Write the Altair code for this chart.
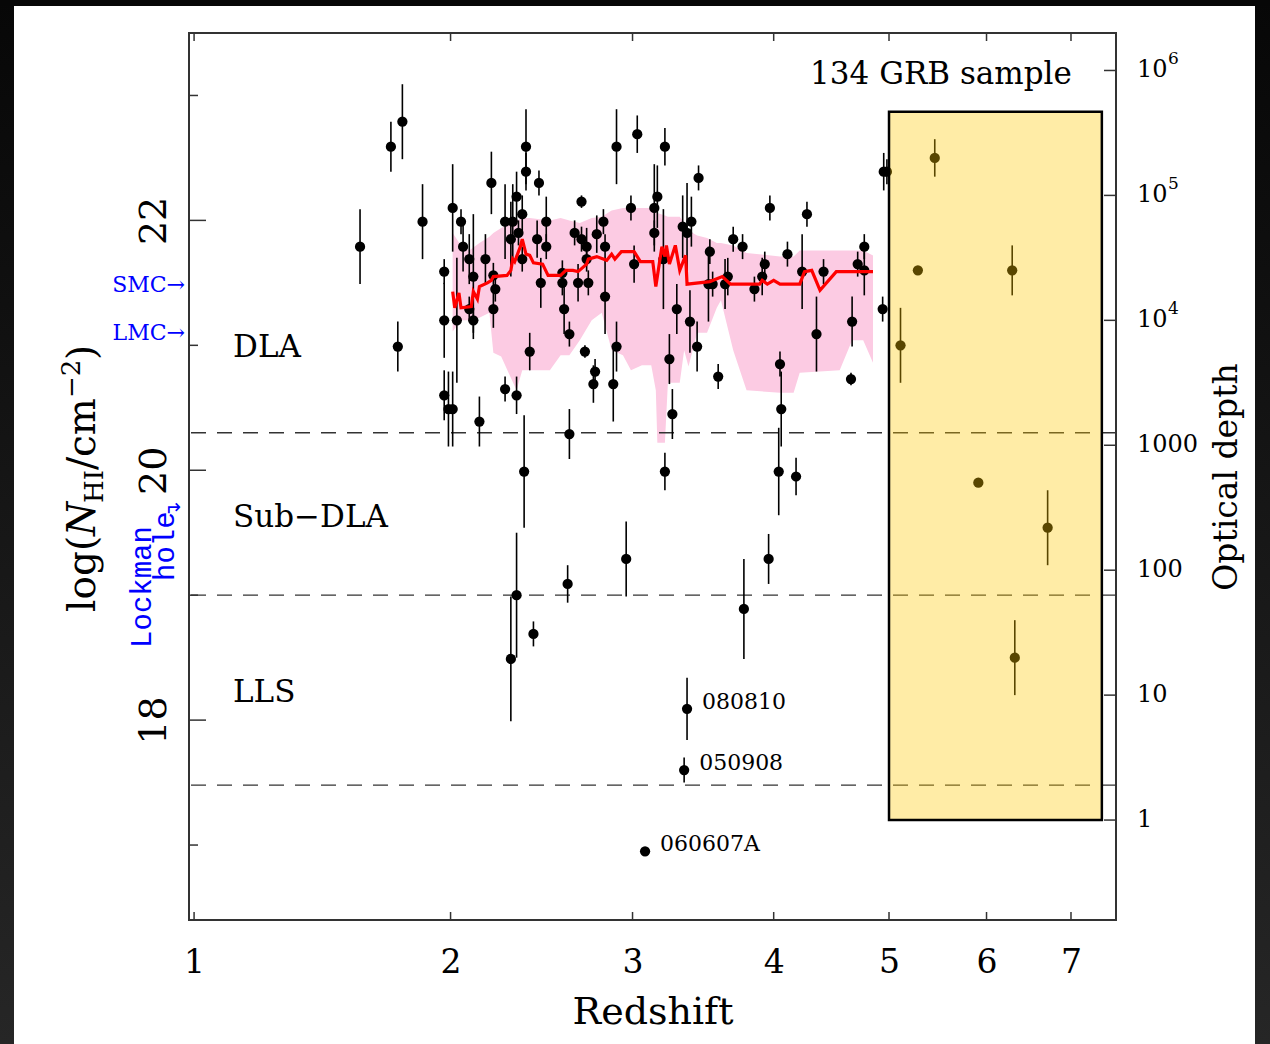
import altair as alt
import pandas as pd

# Plot-area size in pixels
W, H = 927, 887
SERIF = "DejaVu Serif"
MONO = "Liberation Mono"

# ---------------- GRB afterglow HI column densities ----------------
grb_z = [
    1.60, 1.73, 1.78, 1.76, 1.87, 1.97, 1.97, 2.01, 2.05, 2.06, 2.03, 2.09, 2.11,
    2.09, 2.11, 2.17, 2.20, 2.21, 2.22, 2.21, 1.97, 1.99, 2.01, 2.14, 2.27, 2.33,
    2.40, 2.27, 2.31, 2.30, 2.33, 2.36, 2.34, 2.36, 2.38, 2.38, 2.45, 2.44, 2.49,
    2.49, 2.46, 2.62, 2.58, 2.58, 2.59, 2.62, 2.65, 2.69, 2.69, 2.72, 2.72, 2.67,
    2.73, 2.71, 2.77, 2.76, 2.78, 2.82, 2.83, 2.83, 2.90, 2.88, 2.90, 2.99, 3.01,
    3.03,
    3.21, 3.14, 3.16, 3.14, 3.20, 3.29, 3.24, 3.26, 3.33, 3.36, 3.39, 3.38, 3.43,
    3.44, 3.52, 3.51, 3.54, 3.58, 3.65, 3.63, 3.69, 3.76, 3.85, 3.91, 3.93, 3.97,
    4.05, 4.06, 4.11, 4.23, 4.27, 4.35, 4.41, 4.66, 4.65, 4.71, 4.77, 4.77, 4.94,
    4.95, 4.98,
    2.37, 3.21, 4.04, 4.18, 2.33, 2.30, 2.42, 2.61, 2.96, 3.77, 3.96,
    3.36, 3.34, 3.08,
    5.11, 5.28, 5.45, 5.91, 6.29, 6.32, 6.71,
]
grb_logn = [
    21.79, 22.59, 22.79, 20.99, 21.99, 21.59, 21.20, 22.10, 21.99, 21.79, 21.20, 21.69, 21.55,
    21.29, 21.20, 21.69, 22.30, 21.56, 21.45, 21.29, 20.60, 20.49, 20.49, 20.39, 20.65, 20.60,
    20.95, 21.99, 21.99, 21.85, 22.19, 22.05, 21.90, 21.69, 22.59, 22.39, 22.30, 21.85, 21.99,
    21.79, 21.50, 20.29, 21.58, 21.50, 21.29, 21.09, 21.90, 22.15, 21.85, 21.79, 21.69, 21.50,
    21.50, 20.95, 20.79, 20.69, 21.89, 21.99, 21.79, 21.39, 20.99, 20.69, 22.59, 22.10, 21.65,
    22.69,
    22.59, 22.10, 22.19, 21.90, 21.69, 21.29, 20.89, 20.45, 21.95, 21.90, 21.99, 21.19, 20.99,
    22.34, 21.75, 21.49, 21.49, 20.75, 21.55, 21.49, 21.85, 21.79, 21.45, 21.55, 21.65, 22.10,
    20.85, 20.49, 21.73, 21.59, 22.05, 21.09, 21.59, 21.19, 20.73, 21.65, 21.79, 21.60, 21.29,
    22.39, 22.39,
    19.99, 19.99, 19.99, 19.95, 19.00, 18.49, 18.69, 19.09, 19.29, 18.89, 19.29,
    18.09, 17.60, 16.95,
    21.00, 21.60, 22.50, 19.90, 21.60, 18.50, 19.54,
]
grb_err = [
    0.30, 0.20, 0.30, 0.20, 0.30, 0.10, 0.30, 0.35, 0.10, 0.20, 0.50, 0.20, 0.50,
    0.10, 0.10, 0.20, 0.25, 0.10, 0.10, 0.15, 0.20, 0.30, 0.30, 0.20, 0.10, 0.15,
    0.15, 0.30, 0.30, 0.30, 0.20, 0.15, 0.10, 0.10, 0.30, 0.15, 0.10, 0.15, 0.20,
    0.10, 0.20, 0.20, 0.10, 0.10, 0.20, 0.10, 0.10, 0.05, 0.10, 0.15, 0.10, 0.15,
    0.10, 0.05, 0.10, 0.15, 0.15, 0.10, 0.10, 0.30, 0.20, 0.30, 0.30, 0.10, 0.15,
    0.15,
    0.15, 0.35, 0.25, 0.10, 0.40, 0.20, 0.20, 0.20, 0.25, 0.40, 0.20, 0.25, 0.20,
    0.10, 0.10, 0.30, 0.10, 0.10, 0.15, 0.20, 0.10, 0.10, 0.10, 0.15, 0.10, 0.10,
    0.10, 0.30, 0.10, 0.30, 0.10, 0.30, 0.10, 0.20, 0.05, 0.10, 0.10, 0.20, 0.10,
    0.15, 0.10,
    0.45, 0.15, 0.35, 0.15, 0.50, 0.50, 0.10, 0.15, 0.30, 0.40, 0.20,
    0.25, 0.10, 0.00,
    0.30, 0.00, 0.15, 0.00, 0.20, 0.30, 0.30,
]

# Named low-column bursts
named_grb = ["080810", "050908", "060607A"]
named_z = [3.36, 3.34, 3.08]
named_logn = [18.09, 17.60, 16.95]

# Running median of the sample
median_z = [2.01, 2.02, 2.04, 2.05, 2.10, 2.11, 2.13, 2.14, 2.18, 2.20, 2.21, 2.28, 2.30,
            2.31, 2.32, 2.33, 2.35, 2.36, 2.37, 2.38, 2.40, 2.42, 2.47, 2.50, 2.57, 2.60,
            2.64, 2.67, 2.72, 2.73, 2.78, 2.84, 2.87, 2.89, 2.93, 3.01, 3.05, 3.13, 3.15,
            3.19, 3.21, 3.22, 3.24, 3.28, 3.31, 3.35, 3.36, 3.52, 3.61, 3.67, 3.89, 3.91,
            3.95, 4.00, 4.05, 4.21, 4.25, 4.31, 4.38, 4.52, 4.85]
median_logn = [21.43, 21.30, 21.42, 21.30, 21.31, 21.43, 21.37, 21.47, 21.50, 21.52, 21.55,
               21.56, 21.60, 21.69, 21.67, 21.71, 21.79, 21.85, 21.79, 21.73, 21.72, 21.66,
               21.65, 21.56, 21.56, 21.60, 21.60, 21.59, 21.65, 21.69, 21.71, 21.68, 21.73,
               21.69, 21.75, 21.75, 21.67, 21.67, 21.47, 21.79, 21.71, 21.80, 21.65, 21.80,
               21.60, 21.72, 21.49, 21.51, 21.55, 21.49, 21.49, 21.52, 21.49, 21.52, 21.49,
               21.49, 21.59, 21.60, 21.44, 21.59, 21.59]

# Spread around the running median
band_z = [2.01, 2.05, 2.09, 2.14, 2.19, 2.21, 2.25, 2.30, 2.33, 2.36, 2.40, 2.51, 2.57,
          2.62, 2.68, 2.75, 2.81, 2.87, 2.94, 2.99, 3.06, 3.12, 3.15, 3.16, 3.21, 3.23,
          3.31, 3.34, 3.37, 3.43, 3.50, 3.57, 3.60, 3.69, 3.79, 4.05, 4.16, 4.21, 4.55,
          4.66, 4.76, 4.85]
band_lo = [21.11, 21.20, 21.20, 21.22, 21.26, 20.94, 20.91, 20.74, 20.64, 20.80, 20.80,
           20.80, 20.92, 20.92, 21.04, 21.20, 21.26, 20.96, 20.92, 20.80, 20.84, 20.84,
           20.64, 20.22, 20.22, 20.70, 20.70, 20.96, 20.83, 21.10, 21.10, 21.30, 21.36,
           20.96, 20.64, 20.62, 20.62, 20.78, 20.80, 21.04, 21.04, 20.86]
band_hi = [21.90, 21.80, 21.76, 21.82, 21.87, 21.90, 21.94, 21.98, 22.00, 22.02, 22.02,
           22.00, 22.02, 22.00, 21.98, 22.02, 22.03, 22.08, 22.10, 22.10, 22.10, 22.10,
           22.06, 22.06, 22.04, 22.03, 22.03, 21.98, 21.92, 21.88, 21.86, 21.82, 21.82,
           21.80, 21.74, 21.71, 21.71, 21.76, 21.76, 21.76, 21.76, 21.72]

# Absorber classes
class_bounds = [20.3, 19.0, 17.48]
class_names = ["DLA", "Sub\u2212DLA", "LLS"]
class_z = [1.127, 1.127, 1.127]
class_logn = [20.98, 19.62, 18.22]

# Reference HI columns of the Magellanic Clouds
ref_names = ["SMC\u2192", "LMC\u2192"]
ref_logn = [21.48, 21.10]

# High-redshift window
hiz_z = [5.0, 7.4]
hiz_logn = [17.2, 22.87]

# Axis ticks
z_ticks = [1, 2, 3, 4, 5, 6, 7]
logn_major = [18, 20, 22]
logn_minor = [17, 19, 21, 23]
# Lyman-limit optical depth tau = N_HI * 6.3e-18 cm^2  ->  log N = log tau + 17.2
tau_exp = [0, 1, 2, 3, 4, 5, 6]
tau_base = ["1", "10", "100", "1000", "10", "10", "10"]
tau_sup = ["", "", "", "", "4", "5", "6"]


def onep(zs):
    return [1.0 + z for z in zs]


grb = pd.DataFrame({
    "zp": onep(grb_z), "logn": grb_logn,
    "lo": [n - e for n, e in zip(grb_logn, grb_err)],
    "hi": [n + e for n, e in zip(grb_logn, grb_err)],
})
named = pd.DataFrame({"zp": onep(named_z), "logn": named_logn, "name": named_grb})
median = pd.DataFrame({"zp": onep(median_z), "logn": median_logn})
band = pd.DataFrame({"zp": onep(band_z), "lo": band_lo, "hi": band_hi})
bounds = pd.DataFrame({"logn": class_bounds})
classes = pd.DataFrame({"zp": onep(class_z), "logn": class_logn, "name": class_names})
refs = pd.DataFrame({"logn": ref_logn, "name": ref_names})
hiz = pd.DataFrame({"zp0": [1 + hiz_z[0]], "zp1": [1 + hiz_z[1]],
                    "n0": [hiz_logn[0]], "n1": [hiz_logn[1]]})
xt = pd.DataFrame({"zp": onep(z_ticks)})
ymaj = pd.DataFrame({"logn": logn_major})
ymin = pd.DataFrame({"logn": logn_minor})
tau = pd.DataFrame({"logn": [e + 17.2 for e in tau_exp], "base": tau_base, "sup": tau_sup})
one = pd.DataFrame({"k": [0]})

xscale = alt.Scale(type="log", domain=[1.984, 8.59], nice=False)
yscale = alt.Scale(domain=[16.4, 23.5], nice=False, zero=False)

x_axis = alt.Axis(
    values=onep(z_ticks), labelExpr="format(datum.value - 1, 'd')",
    ticks=False, tickSize=0, domain=False, grid=False, labelOverlap=False,
    labelFont=SERIF, labelFontSize=33, labelColor="black", labelPadding=26,
    title="Redshift", titleFont=SERIF, titleFontSize=38, titleFontWeight="normal",
    titleColor="black", titleBaseline="alphabetic", titleY=103,
)
y_axis = alt.Axis(
    values=logn_major, format="d", ticks=False, tickSize=0, domain=False, grid=False,
    labelOverlap=False, labelAngle=270, labelAlign="center", labelBaseline="alphabetic",
    labelPadding=24, labelFont=SERIF, labelFontSize=38, labelColor="black", title=None,
)


def X(field="zp"):
    return alt.X(f"{field}:Q", scale=xscale, axis=x_axis)


def Y(field="logn"):
    return alt.Y(f"{field}:Q", scale=yscale, axis=y_axis)


# Dark page border
edge = alt.Gradient(gradient="linear", x1=0, x2=0, y1=0, y2=1,
                    stops=[alt.GradientStop(color="#070707", offset=0),
                           alt.GradientStop(color="#262626", offset=1)])
border_left = alt.Chart(one).mark_rect(fill=edge).encode(
    x=alt.value(-189), x2=alt.value(-175), y=alt.value(-33), y2=alt.value(1011))
border_right = alt.Chart(one).mark_rect(fill=edge).encode(
    x=alt.value(1066), x2=alt.value(1081), y=alt.value(-33), y2=alt.value(1011))
border_top = alt.Chart(one).mark_rect(fill="#070707").encode(
    x=alt.value(-189), x2=alt.value(1081), y=alt.value(-33), y2=alt.value(-27))

spread = alt.Chart(band).mark_area(color="#fccbe3", opacity=1).encode(
    x=X(), y=Y("lo"), y2="hi:Q")

dashes = alt.Chart(bounds).mark_rule(color="#333333", strokeWidth=1.3,
                                     strokeDash=[15, 11]).encode(y=Y())

errbars = alt.Chart(grb).mark_rule(color="black", strokeWidth=1.6).encode(
    x=X(), y=Y("lo"), y2="hi:Q")
dots = alt.Chart(grb).mark_circle(color="black", opacity=1, size=105).encode(x=X(), y=Y())

med = alt.Chart(median).mark_line(color="#ff0000", strokeWidth=3.2).encode(x=X(), y=Y())

window = alt.Chart(hiz).mark_rect(fill="#ffc800", fillOpacity=0.35, stroke="black",
                                  strokeWidth=2.5).encode(
    x=X("zp0"), x2="zp1:Q", y=Y("n0"), y2="n1:Q")

tick_col = "#333333"
xt_bottom = alt.Chart(xt).mark_rule(color=tick_col, strokeWidth=1.5).encode(
    x=X(), y=alt.value(H), y2=alt.value(H - 8))
xt_top = alt.Chart(xt).mark_rule(color=tick_col, strokeWidth=1.5).encode(
    x=X(), y=alt.value(0), y2=alt.value(8))
yt_major = alt.Chart(ymaj).mark_rule(color=tick_col, strokeWidth=1.5).encode(
    y=Y(), x=alt.value(0), x2=alt.value(17))
yt_minor = alt.Chart(ymin).mark_rule(color=tick_col, strokeWidth=1.5).encode(
    y=Y(), x=alt.value(0), x2=alt.value(9))
yt_right = alt.Chart(tau).mark_rule(color=tick_col, strokeWidth=1.5).encode(
    y=Y(), x=alt.value(W - 12), x2=alt.value(W))

tau_text = alt.Chart(tau).mark_text(font=SERIF, fontSize=24, align="left",
                                    baseline="middle", color="black").encode(
    y=Y(), x=alt.value(W + 21), text="base:N")
tau_sup_text = alt.Chart(tau).mark_text(font=SERIF, fontSize=17, align="left",
                                        baseline="middle", color="black", dy=-11).encode(
    y=Y(), x=alt.value(W + 52), text="sup:N")
tau_title = alt.Chart(one).mark_text(text="Optical depth", font=SERIF, fontSize=33,
                                     angle=270, align="center", baseline="alphabetic",
                                     color="black").encode(
    x=alt.value(1237 - 189), y=alt.value(477 - 33))

# log(N_HI / cm^-2), set piece by piece along the rotated baseline
title_parts = [
    ("log(", 95, 612, 39, "normal"),
    ("N", 95, 536, 39, "italic"),
    ("HI", 103, 503, 26, "normal"),
    ("/", 95, 470, 39, "normal"),
    ("cm", 95, 457, 39, "normal"),
    ("\u22122", 80, 398, 26, "normal"),
    (")", 95, 360, 39, "normal"),
]
title_layers = [
    alt.Chart(one).mark_text(text=t, font=SERIF, fontSize=s, fontStyle=st, angle=270,
                             align="left", baseline="alphabetic", color="black").encode(
        x=alt.value(px - 189), y=alt.value(py - 33))
    for t, px, py, s, st in title_parts
]

class_text = alt.Chart(classes).mark_text(font=SERIF, fontSize=31, align="left",
                                          baseline="middle", color="black").encode(
    x=X(), y=Y(), text="name:N")
sample_text = alt.Chart(pd.DataFrame({"zp": [8.01], "logn": [23.16]})).mark_text(
    text="134  GRB  sample", font=SERIF, fontSize=31, align="right", baseline="middle",
    color="black").encode(x=X(), y=Y())
named_text = alt.Chart(named).mark_text(font=SERIF, fontSize=22, align="left",
                                        baseline="middle", color="black",
                                        dx=15, dy=-7).encode(x=X(), y=Y(), text="name:N")
ref_text = alt.Chart(refs).mark_text(font=SERIF, fontSize=22, align="right",
                                     baseline="middle", color="#0000ff").encode(
    x=alt.value(-4), y=Y(), text="name:N")
lockman = alt.Chart(one).mark_text(text="Lockman", font=MONO, fontSize=29, angle=270,
                                   align="center", baseline="alphabetic",
                                   color="#0000ff").encode(
    x=alt.value(151 - 189), y=alt.value(587 - 33))
hole = alt.Chart(one).mark_text(text="hole", font=MONO, fontSize=29, angle=270,
                                align="left", baseline="alphabetic",
                                color="#0000ff").encode(
    x=alt.value(174 - 189), y=alt.value(581 - 33))
hole_arrow = alt.Chart(one).mark_text(text="\u21b4", font="DejaVu Sans", fontSize=20,
                                      angle=270, align="left", baseline="alphabetic",
                                      color="#0000ff").encode(
    x=alt.value(180 - 189), y=alt.value(518 - 33))

chart = alt.layer(
    border_left, border_right, border_top,
    spread, dashes, errbars, dots, med, window,
    xt_bottom, xt_top, yt_major, yt_minor, yt_right,
    tau_text, tau_sup_text, tau_title, *title_layers,
    class_text, sample_text, named_text, ref_text, lockman, hole, hole_arrow,
).properties(
    width=W, height=H, padding=0, background="white",
).configure_view(
    stroke="#333333", strokeWidth=2,
)

chart.save("out.html", embed_options={"renderer": "svg", "actions": False})
